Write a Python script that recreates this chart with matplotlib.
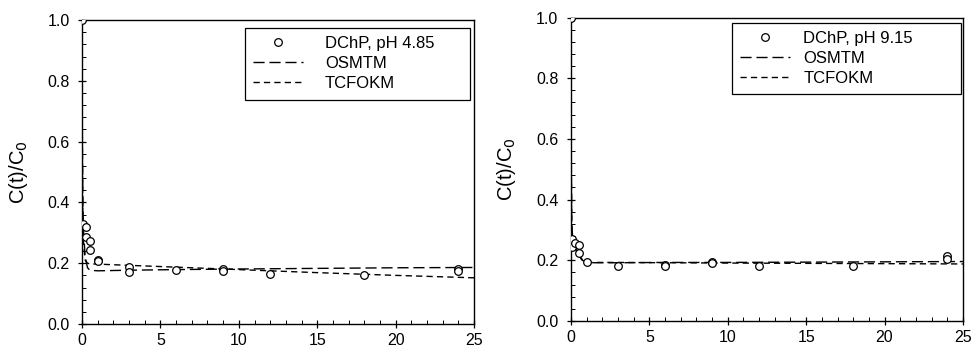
import matplotlib.pyplot as plt
from matplotlib.ticker import MultipleLocator

plt.rcParams['font.family'] = ['Liberation Sans', 'DejaVu Sans']
plt.rcParams['font.size'] = 11.5

# pH 4.85 data
t_a = [0, 0.083, 0.25, 0.25, 0.5, 0.5, 1, 1, 3, 3, 6, 9, 9, 12, 18, 24, 24]
c_a = [1.0, 0.33, 0.32, 0.285, 0.272, 0.243, 0.212, 0.206, 0.188, 0.172,
       0.179, 0.181, 0.175, 0.166, 0.161, 0.182, 0.175]

# model curves pH 4.85
tm_a = [0, 0.02, 0.05, 0.1, 0.2, 0.35, 0.5, 1, 3, 6, 10, 15, 20, 25]
osm_a = [1.0, 0.6, 0.4, 0.3, 0.22, 0.185, 0.177, 0.175, 0.177, 0.179,
         0.181, 0.183, 0.185, 0.186]
tcf_a = [1.0, 0.55, 0.35, 0.26, 0.21, 0.2, 0.198, 0.197, 0.193, 0.187,
         0.179, 0.169, 0.16, 0.152]

# pH 9.15 data
t_b = [0, 0.083, 0.083, 0.25, 0.5, 0.5, 1, 3, 6, 6, 9, 9, 12, 18, 24, 24]
c_b = [1.0, 0.269, 0.245, 0.257, 0.25, 0.223, 0.194, 0.181, 0.186, 0.18,
       0.193, 0.19, 0.18, 0.181, 0.213, 0.203]

tm_b = [0, 0.02, 0.05, 0.1, 0.2, 0.35, 0.5, 0.75, 1, 3, 6, 10, 15, 20, 25]
osm_b = [1.0, 0.55, 0.33, 0.28, 0.255, 0.235, 0.22, 0.2, 0.192, 0.192,
         0.193, 0.193, 0.194, 0.195, 0.196]
tcf_b = [1.0, 0.5, 0.3, 0.27, 0.25, 0.23, 0.215, 0.198, 0.193, 0.193,
         0.192, 0.191, 0.19, 0.189, 0.188]

fig = plt.figure(figsize=(9.71, 3.49), dpi=100)
ax1 = fig.add_axes([0.0845, 0.0716, 0.4037, 0.871])
ax2 = fig.add_axes([0.588, 0.0802, 0.4037, 0.8696])

panels = [
    (ax1, t_a, c_a, tm_a, osm_a, tcf_a, 'DChP, pH 4.85', (0.416, 0.974, 0.574, 0.0), 1.3, -0.133),
    (ax2, t_b, c_b, tm_b, osm_b, tcf_b, 'DChP, pH 9.15', (0.41, 0.983, 0.584, 0.0), 0.8, -0.135),
]

for ax, t, c, tm, osm, tcf, lab, bb, tpad, lx in panels:
    ax.plot(t, c, 'o', mfc='white', mec='black', ms=5.5, mew=0.9, label=lab, zorder=3)
    ax.plot(tm, osm, color='black', lw=1.0, dashes=(8, 3.5), label='OSMTM')
    ax.plot(tm, tcf, color='black', lw=1.0, dashes=(4.5, 3), label='TCFOKM')
    ax.set_xlim(0, 25)
    ax.set_ylim(0, 1.0)
    ax.set_xticks([0, 5, 10, 15, 20, 25])
    ax.set_yticks([0.0, 0.2, 0.4, 0.6, 0.8, 1.0])
    ax.set_yticklabels(['0.0', '0.2', '0.4', '0.6', '0.8', '1.0'])
    ax.xaxis.set_minor_locator(MultipleLocator(1))
    ax.yaxis.set_minor_locator(MultipleLocator(0.04))
    ax.tick_params(which='major', direction='inout', length=6, width=0.9, labelsize=11.5)
    ax.tick_params(axis='y', which='major', pad=6)
    ax.tick_params(which='minor', direction='in', length=3, width=0.7)
    for s in ax.spines.values():
        s.set_linewidth(1.0)
    ax.set_ylabel('C(t)/C$_0$', fontsize=14.5)
    ax.yaxis.set_label_coords(lx, 0.5)
    leg = ax.legend(loc='upper left', bbox_to_anchor=bb, mode='expand',
                    borderaxespad=0, fancybox=False, edgecolor='black',
                    framealpha=1, handlelength=3.0, borderpad=0.5,
                    labelspacing=0.3, handletextpad=tpad, fontsize=12)
    leg.get_frame().set_linewidth(0.9)

fig.savefig('out.png', dpi=100)
